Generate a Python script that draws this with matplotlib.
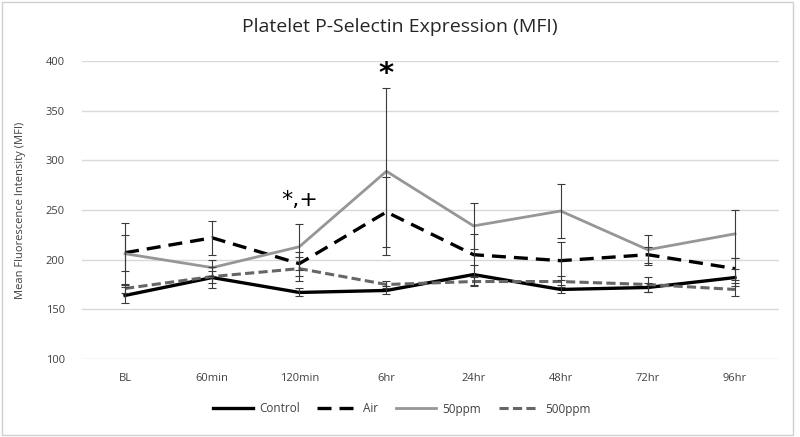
import matplotlib.pyplot as plt
from matplotlib.patches import Rectangle

plt.rcParams["font.family"] = ["Open Sans", "DejaVu Sans"]

# data
times = ["BL", "60min", "120min", "6hr", "24hr", "48hr", "72hr", "96hr"]

control = [164, 182, 167, 169, 185, 170, 172, 182]
control_err = [8, 11, 4, 4, 10, 4, 5, 9]

air = [207, 222, 196, 248, 205, 199, 205, 191]
air_err = [18, 17, 12, 35, 21, 19, 8, 11]

ppm50 = [206, 192, 213, 289, 234, 249, 210, 226]
ppm50_err = [31, 8, 23, 84, 23, 27, 15, 24]

ppm500 = [171, 183, 191, 175, 178, 178, 175, 170]
ppm500_err = [5, 6, 12, 4, 5, 6, 8, 7]

series = [
    ("Control", control, control_err, "black", "-", 2.4),
    ("Air", air, air_err, "black", (0, (4.2, 2.4)), 2.4),
    ("50ppm", ppm50, ppm50_err, "#969696", "-", 2.0),
    ("500ppm", ppm500, ppm500_err, "#666666", (0, (3.0, 1.4)), 2.2),
]

fig = plt.figure(figsize=(8, 4.37), dpi=100)
ax = fig.add_axes([81.5 / 800, 1 - 359 / 437, 697 / 800, 298 / 437])

x = list(range(len(times)))
lines = []
for name, vals, err, color, ls, lw in series:
    (ln,) = ax.plot(x, vals, color=color, linestyle=ls, linewidth=lw, label=name, zorder=3)
    ax.errorbar(x, vals, yerr=err, fmt="none", ecolor="#3a3a3a", elinewidth=0.8,
                capsize=3, capthick=0.8, zorder=4)
    lines.append(ln)

ax.set_xlim(-0.5, len(times) - 0.5)
ax.set_ylim(100, 400)
ax.set_yticks(range(100, 401, 50))
ax.set_xticks(x)
ax.set_xticklabels(times)
ax.yaxis.grid(True, color="#d9d9d9", linewidth=1)
ax.set_axisbelow(True)
for s in ax.spines.values():
    s.set_visible(False)
ax.tick_params(length=0, labelsize=8, colors="#404040")
ax.tick_params(axis="x", pad=10)
ax.tick_params(axis="y", pad=12)
ax.set_ylabel("Mean Fluorescence Intensity (MFI)", fontsize=8, color="#404040", labelpad=14)

# significance marks
ax.text(3, 373, "*", ha="center", va="bottom", fontsize=21, fontweight="bold",
        family="DejaVu Sans")
ax.text(2, 250, "*,+", ha="center", va="bottom", fontsize=16, family="DejaVu Sans")

fig.text(0.5, 0.938, "Platelet P-Selectin Expression (MFI)", ha="center", va="center",
         fontsize=14, color="#262626")

fig.legend(handles=lines, loc="center", bbox_to_anchor=(0.502, 1 - 409 / 437), ncol=4,
           frameon=False, fontsize=8.5, handlelength=3.4, handletextpad=0.5,
           columnspacing=1.5, labelcolor="#404040")

fig.add_artist(Rectangle((2 / 800, 2 / 437), 791 / 800, 433 / 437, transform=fig.transFigure,
                         fill=False, edgecolor="#d0d0d0", linewidth=1))

fig.savefig("out.png", dpi=100)
